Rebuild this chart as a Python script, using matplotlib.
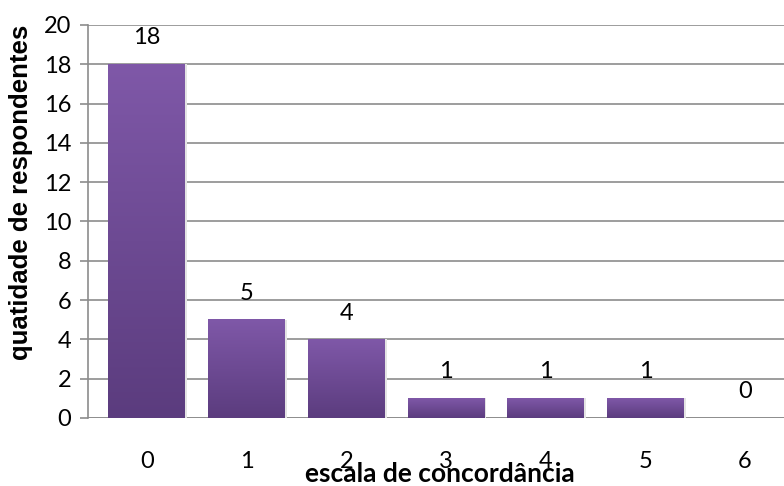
import numpy as np
import matplotlib
matplotlib.use('Agg')
import matplotlib.pyplot as plt
from matplotlib.colors import LinearSegmentedColormap

categories = ['0', '1', '2', '3', '4', '5', '6']
values = [18, 5, 4, 1, 1, 1, 0]
yticks = [0, 2, 4, 6, 8, 10, 12, 14, 16, 18, 20]

plt.rcParams['font.family'] = ['Lato', 'DejaVu Sans']

fig = plt.figure(figsize=(7.84, 4.86), dpi=100)
ax = fig.add_axes([88 / 784, 1 - 418 / 486, 696 / 784, 393 / 486])

x = np.arange(len(categories))
width = 0.77
grad = LinearSegmentedColormap.from_list('purp', ['#5b3c7e', '#7f58a8'])
bars = ax.bar(x, values, width=width, color='none', zorder=3)
g = np.linspace(0, 1, 256).reshape(-1, 1)
for b, v in zip(bars, values):
    if v == 0:
        continue
    x0 = b.get_x()
    # soft shadow
    ax.bar(x0 + width / 2 + 0.02, v, width=width, color='#e4e4e4', zorder=2)
    ax.imshow(g, cmap=grad, origin='lower', aspect='auto',
              extent=(x0, x0 + width, 0, v), zorder=3)

for xi, v in zip(x, values):
    ax.annotate(str(v), (xi, v), xytext=(0, 19), textcoords='offset points',
                ha='center', va='center', fontsize=17)

ax.set_xlim(-0.59, 6.39)
ax.set_ylim(0, 20)
ax.set_yticks(yticks)
ax.set_xticks(x)
ax.set_xticklabels(categories)
ax.yaxis.grid(True, color='#8c8c8c', linewidth=1.2, zorder=0)
ax.set_axisbelow(True)
for s in ['top', 'right', 'bottom']:
    ax.spines[s].set_visible(False)
ax.spines['left'].set_color('#8c8c8c')
ax.spines['left'].set_linewidth(1.2)
ax.axhline(0, color='#8c8c8c', linewidth=1.2, zorder=1)
ax.tick_params(axis='y', length=6, color='#8c8c8c', width=1.2, labelsize=17, pad=6)
ax.tick_params(axis='x', length=0, labelsize=17, pad=24)

fig.text(21 / 784, 1 - 192 / 486, 'quatidade de respondentes', fontsize=18.5,
         fontweight='bold', family='Liberation Sans', rotation=90,
         ha='center', va='center')
fig.text(440 / 784, 1 - 474 / 486, 'escala de concordância', fontsize=19,
         fontweight='bold', ha='center', va='center')

fig.savefig('out.png', dpi=100)
